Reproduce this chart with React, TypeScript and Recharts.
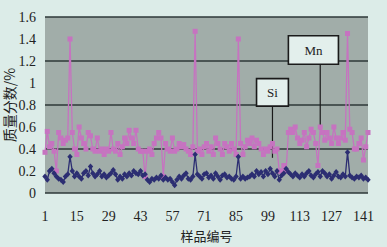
import React from "react"
import { LineChart, Line, XAxis, YAxis, CartesianGrid, ReferenceArea, ReferenceLine } from "recharts"

// 锰、硅质量分数（逐个样品读取）
const mnValues = [
  0.37, 0.56, 0.42, 0.45, 0.38, 0.2, 0.55, 0.5, 0.45, 0.48,
  0.5, 1.4, 0.55, 0.4, 0.35, 0.6, 0.5, 0.45, 0.4, 0.55,
  0.52, 0.4, 0.38, 0.5, 0.38, 0.4, 0.35, 0.4, 0.38, 0.55,
  0.4, 0.38, 0.45, 0.35, 0.42, 0.5, 0.45, 0.57, 0.5, 0.45,
  0.57, 0.4, 0.38, 0.38, 0.15, 0.38, 0.4, 0.35, 0.45, 0.5,
  0.55, 0.5, 0.15, 0.45, 0.4, 0.38, 0.5, 0.38, 0.4, 0.45,
  0.42, 0.44, 0.4, 0.38, 0.35, 0.42, 1.47, 0.38, 0.4, 0.35,
  0.42, 0.45, 0.38, 0.42, 0.35, 0.5, 0.45, 0.4, 0.35, 0.45,
  0.42, 0.38, 0.45, 0.4, 0.35, 1.4, 0.45, 0.35, 0.42, 0.48,
  0.45, 0.5, 0.42, 0.48, 0.45, 0.4, 0.35, 0.4, 0.38, 0.42,
  0.45, 0.38, 0.4, 0.2, 0.2, 0.25, 0.2, 0.55, 0.58, 0.55,
  0.6, 0.5, 0.45, 0.48, 0.55, 0.42, 0.5, 0.58, 0.55, 0.45,
  0.25, 0.6, 0.55, 0.48, 0.55, 0.5, 0.45, 0.6, 0.5, 0.45,
  0.5, 0.55, 0.48, 1.45, 0.58, 0.55, 0.4, 0.4, 0.45, 0.5,
  0.3, 0.42, 0.55,
]

const siValues = [
  0.15, 0.12, 0.2, 0.22, 0.18, 0.15, 0.13, 0.12, 0.1, 0.15,
  0.17, 0.33, 0.2, 0.15, 0.18, 0.15, 0.13, 0.18, 0.2, 0.16,
  0.24, 0.18, 0.15, 0.17, 0.2, 0.15, 0.17, 0.14, 0.16, 0.18,
  0.21, 0.17, 0.12, 0.15, 0.13, 0.17, 0.15, 0.18, 0.16, 0.2,
  0.18, 0.17, 0.2, 0.16, 0.17, 0.12, 0.1, 0.13, 0.12, 0.14,
  0.13, 0.16, 0.12, 0.14, 0.12, 0.13, 0.1, 0.07, 0.12, 0.15,
  0.13, 0.16, 0.18, 0.13, 0.12, 0.15, 0.35, 0.17, 0.15, 0.13,
  0.17, 0.18, 0.14, 0.16, 0.13, 0.18, 0.15, 0.12, 0.16, 0.17,
  0.14, 0.15, 0.13, 0.12, 0.15, 0.33, 0.13, 0.15, 0.13, 0.14,
  0.15, 0.17, 0.15, 0.2, 0.17, 0.19, 0.15, 0.2, 0.17, 0.22,
  0.18, 0.15, 0.2, 0.12, 0.16, 0.18, 0.22, 0.19, 0.17, 0.15,
  0.18, 0.16, 0.14, 0.17, 0.15, 0.18, 0.2, 0.16, 0.14, 0.17,
  0.19, 0.15, 0.2, 0.18, 0.15, 0.17, 0.13, 0.16, 0.19, 0.15,
  0.14, 0.17, 0.15, 0.37, 0.16, 0.14, 0.13, 0.15, 0.14, 0.16,
  0.13, 0.14, 0.12,
]

const yTicks = [0, 0.2, 0.4, 0.6, 0.8, 1, 1.2, 1.4, 1.6]

const data = mnValues.map((mn, i) => ({ n: i + 1, mn, si: siValues[i] }))

const MN_COLOR = "#c673c0"
const SI_COLOR = "#2c2e72"
const numFont = { fontFamily: "'Liberation Serif', serif", fontSize: 14, fill: "#222" }

const SquareDot = (props: any) => {
  const { cx, cy, index } = props
  if (cx == null || cy == null) return <g key={`mn-${index}`} />
  return <rect key={`mn-${index}`} x={cx - 2.5} y={cy - 2.5} width={5} height={5} fill={MN_COLOR} />
}

const DiamondDot = (props: any) => {
  const { cx, cy, index } = props
  if (cx == null || cy == null) return <g key={`si-${index}`} />
  return (
    <path key={`si-${index}`} d={`M${cx},${cy - 3}L${cx + 2.7},${cy}L${cx},${cy + 3}L${cx - 2.7},${cy}Z`} fill={SI_COLOR} />
  )
}

const emptyTick = () => <g />

export default function App() {
  return (
    <div style={{ position: "absolute", left: 0, top: 0, width: 387, height: 247, background: "#dcece8" }}>
      <LineChart width={387} height={247} data={data} margin={{ top: 17, right: 19, left: 0, bottom: 0 }}>
        <CartesianGrid vertical={false} horizontalValues={yTicks} stroke="#2e3838" strokeWidth={1.5} fill="#a1ada9" />
        <XAxis
          dataKey="n"
          interval={13}
          tickLine={false}
          axisLine={false}
          tick={numFont}
          tickMargin={12}
          height={54}
          label={{ value: "样品编号", position: "insideBottom", offset: 6, style: { fontFamily: "'Noto Sans CJK SC'", fontSize: 13, fill: "#222" } }}
        />
        <XAxis
          xAxisId="minor"
          dataKey="n"
          interval={0}
          tick={emptyTick}
          tickSize={3}
          mirror
          height={0}
          axisLine={{ stroke: "#eef2f2", strokeWidth: 1 }}
          tickLine={{ stroke: "#eef2f2", strokeWidth: 0.9 }}
        />
        <YAxis
          domain={[0, 1.6]}
          ticks={yTicks}
          width={45}
          tickLine={false}
          axisLine={false}
          tickMargin={3}
          tick={numFont}
          tickFormatter={(v: number) => String(Number(v.toFixed(1)))}
          label={{ value: "质量分数/%", angle: -90, position: "insideLeft", offset: 10, style: { textAnchor: "middle", fontFamily: "'Noto Sans CJK SC'", fontSize: 14, fill: "#222" } }}
        />
        <ReferenceLine segment={[{ x: 122, y: 1.17 }, { x: 122, y: 0.58 }]} stroke="#1a1a1a" strokeWidth={1.2} />
        <ReferenceLine segment={[{ x: 101, y: 0.79 }, { x: 101, y: 0.32 }]} stroke="#1a1a1a" strokeWidth={1.2} />
        <Line dataKey="mn" stroke={MN_COLOR} strokeWidth={1.3} dot={SquareDot} isAnimationActive={false} />
        <Line dataKey="si" stroke={SI_COLOR} strokeWidth={1.3} dot={DiamondDot} isAnimationActive={false} />
        <ReferenceArea
          x1={108}
          x2={130}
          y1={1.17}
          y2={1.43}
          fill="#e3efec"
          fillOpacity={1}
          stroke="#1a1a1a"
          strokeWidth={1.6}
          label={{ value: "Mn", position: "center", style: { ...numFont, fontSize: 13 } }}
        />
        <ReferenceArea
          x1={94}
          x2={108}
          y1={0.79}
          y2={1.04}
          fill="#e3efec"
          fillOpacity={1}
          stroke="#1a1a1a"
          strokeWidth={1.6}
          label={{ value: "Si", position: "center", style: { ...numFont, fontSize: 13 } }}
        />
      </LineChart>
    </div>
  )
}
